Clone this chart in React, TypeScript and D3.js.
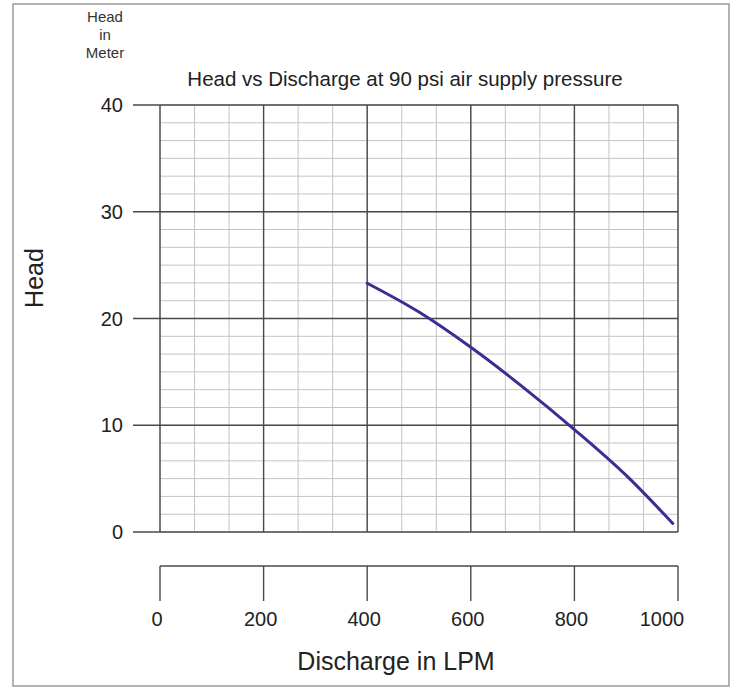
import React from 'react';
import * as d3 from 'd3';

// curve (discharge LPM, head m)
const discharge = [400, 500, 600, 700, 800, 900, 990];
const head = [23.3, 20.6, 17.3, 13.6, 9.6, 5.3, 0.8];

const xTicks = [0, 200, 400, 600, 800, 1000];
const yTicks = [0, 10, 20, 30, 40];
const unitLines = ['Head', 'in', 'Meter'];

const title = 'Head vs Discharge at 90 psi air supply pressure';
const xTitle = 'Discharge in LPM';
const yTitle = 'Head';

const W = 738;
const H = 688;
const FONT = '"Liberation Sans", Arial, sans-serif';

const App: React.FC = () => {
  const x = d3.scaleLinear().domain([0, 1000]).range([160, 678]);
  const y = d3.scaleLinear().domain([0, 40]).range([532, 105]);

  // minor grid: thirds of 200 LPM, sixths of 10 m
  const xMinor = d3.range(0, 1000.01, 200 / 3);
  const yMinor = d3.range(0, 40.01, 10 / 6);

  const pts = discharge.map((d, i) => [d, head[i]] as [number, number]);
  const line = d3.line<[number, number]>()
    .x((d) => x(d[0]))
    .y((d) => y(d[1]))
    .curve(d3.curveMonotoneX);

  const axisY = 566;

  return (
    <svg width={W} height={H} style={{ position: 'absolute', left: 0, top: 0, background: '#fff' }}>
      <rect x={13} y={4} width={716} height={682} fill="#fff" stroke="#9a9a9a" strokeWidth={1.5} />

      {/* unit label */}
      {unitLines.map((t, i) => (
        <text key={t} x={105} y={22 + i * 18} textAnchor="middle" fontSize={15} fontFamily={FONT} fill="#333">{t}</text>
      ))}

      <text x={405} y={86} textAnchor="middle" fontSize={20.5} fontFamily={FONT} fill="#222">{title}</text>

      {/* minor grid */}
      <g stroke="#c4c4c4" strokeWidth={1}>
        {xMinor.map((v) => (
          <line key={'xm' + v} x1={x(v)} x2={x(v)} y1={y(0)} y2={y(40)} />
        ))}
        {yMinor.map((v) => (
          <line key={'ym' + v} x1={x(0)} x2={x(1000)} y1={y(v)} y2={y(v)} />
        ))}
      </g>

      {/* major grid */}
      <g stroke="#4a4a4a" strokeWidth={1.4}>
        {xTicks.map((v) => (
          <line key={'xM' + v} x1={x(v)} x2={x(v)} y1={y(0)} y2={y(40)} />
        ))}
        {yTicks.map((v) => (
          <line key={'yM' + v} x1={133} x2={x(1000)} y1={y(v)} y2={y(v)} />
        ))}
      </g>

      {yTicks.map((v) => (
        <text key={'yl' + v} x={123} y={y(v) + 7} textAnchor="end" fontSize={20} fontFamily={FONT} fill="#222">{v}</text>
      ))}

      <text transform={`translate(43,278) rotate(-90)`} textAnchor="middle" fontSize={25} fontFamily={FONT} fill="#222">{yTitle}</text>

      {/* detached x axis */}
      <g stroke="#4a4a4a" strokeWidth={1.4}>
        <line x1={x(0)} x2={x(1000)} y1={axisY} y2={axisY} />
        {xTicks.map((v) => (
          <line key={'xt' + v} x1={x(v)} x2={x(v)} y1={axisY} y2={axisY + 35} />
        ))}
      </g>
      {xTicks.map((v) => (
        <text key={'xl' + v} x={Math.min(x(v) - 3, x(1000) - 16)} y={626} textAnchor="middle" fontSize={20} fontFamily={FONT} fill="#222">{v}</text>
      ))}
      <text x={396} y={670} textAnchor="middle" fontSize={25} fontFamily={FONT} fill="#222">{xTitle}</text>

      <path d={line(pts) || ''} fill="none" stroke="#3a2e92" strokeWidth={3} strokeLinecap="round" />
    </svg>
  );
};

export default App;
